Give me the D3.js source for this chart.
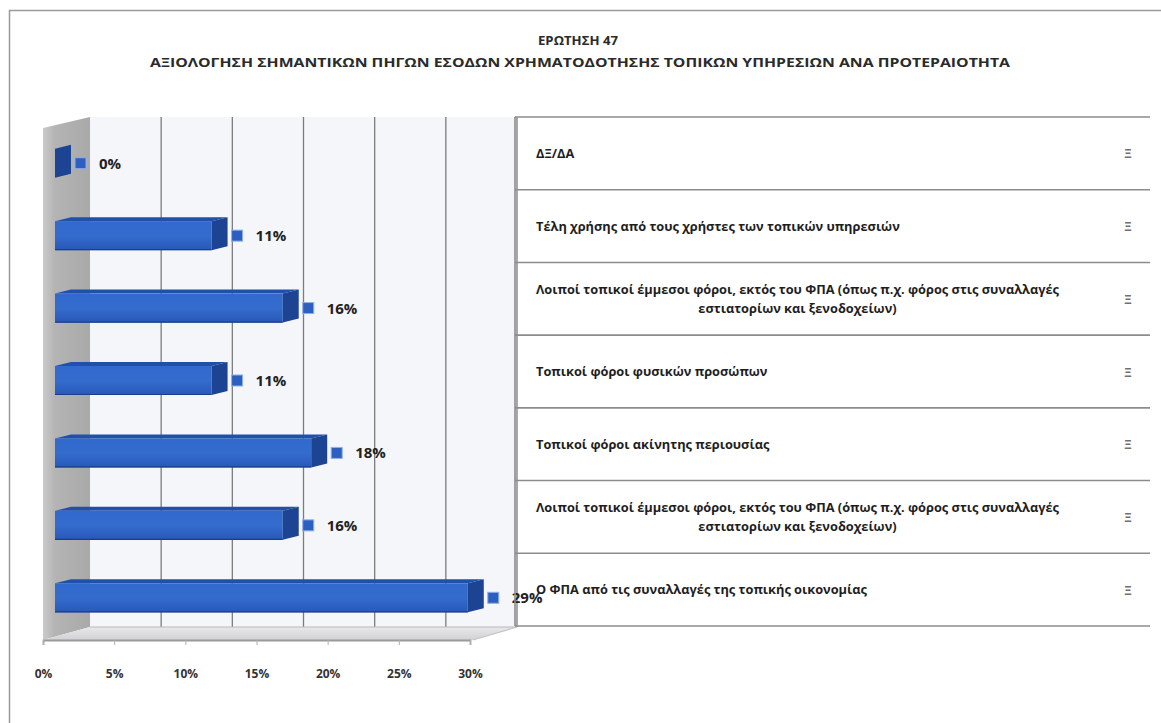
<!DOCTYPE html>
<html>
<head>
<meta charset="utf-8">
<script src="https://cdn.jsdelivr.net/npm/d3@7"></script>
<style>
  html, body { margin: 0; padding: 0; background: #ffffff; }
  svg { display: block; font-family: "Open Sans", "DejaVu Sans", sans-serif; }
</style>
</head>
<body>
<svg id="chart" width="1161" height="723"></svg>
<script>
// Survey question 47: ranking of local revenue sources
const titleLines = [
  "ΕΡΩΤΗΣΗ 47",
  "ΑΞΙΟΛΟΓΗΣΗ ΣΗΜΑΝΤΙΚΩΝ ΠΗΓΩΝ ΕΣΟΔΩΝ ΧΡΗΜΑΤΟΔΟΤΗΣΗΣ ΤΟΠΙΚΩΝ ΥΠΗΡΕΣΙΩΝ ΑΝΑ ΠΡΟΤΕΡΑΙΟΤΗΤΑ"
];

// categories listed top to bottom, as they appear in the chart
const categories = [
  ["ΔΞ/ΔΑ"],
  ["Τέλη χρήσης από τους χρήστες των τοπικών υπηρεσιών"],
  ["Λοιποί τοπικοί έμμεσοι φόροι, εκτός του ΦΠΑ (όπως π.χ. φόρος στις συναλλαγές", "εστιατορίων και ξενοδοχείων)"],
  ["Τοπικοί φόροι φυσικών προσώπων"],
  ["Τοπικοί φόροι ακίνητης περιουσίας"],
  ["Λοιποί τοπικοί έμμεσοι φόροι, εκτός του ΦΠΑ (όπως π.χ. φόρος στις συναλλαγές", "εστιατορίων και ξενοδοχείων)"],
  ["Ο ΦΠΑ από τις συναλλαγές της τοπικής οικονομίας"]
];
const values = [0, 11, 16, 11, 18, 16, 29];
const rowCodes = ["Ξ", "Ξ", "Ξ", "Ξ", "Ξ", "Ξ", "Ξ"];
const xTicks = [0, 5, 10, 15, 20, 25, 30];

const svg = d3.select("#chart");

// outer frame
svg.append("rect")
  .attr("x", 9.5).attr("y", 10.5).attr("width", 1170).attr("height", 730)
  .attr("fill", "none").attr("stroke", "#9a9a9a").attr("stroke-width", 1.5);

// title
svg.append("text").attr("x", 578).attr("y", 45).attr("text-anchor", "middle")
  .attr("font-size", 12).attr("font-weight", 700).attr("fill", "#2a2a2a")
  .attr("textLength", 80).attr("lengthAdjust", "spacingAndGlyphs")
  .text(titleLines[0]);
svg.append("text").attr("x", 580).attr("y", 67).attr("text-anchor", "middle")
  .attr("font-size", 12).attr("font-weight", 700).attr("fill", "#2a2a2a")
  .attr("textLength", 860).attr("lengthAdjust", "spacingAndGlyphs")
  .text(titleLines[1]);

// 3D frame geometry: front plane scale plus a depth offset towards the back wall
const x = d3.scaleLinear().domain([0, 30]).range([43, 470]);
const depth = { dx: 47, dy: -12 };
const wallTop = 117, floorFront = 640;
const floorBack = floorFront + depth.dy - 1;

const rows = d3.scaleBand().domain(d3.range(categories.length)).range([127, 634]).padding(0);
const tableRows = d3.scaleBand().domain(d3.range(categories.length)).range([117, 626]).padding(0);

const defs = svg.append("defs");
const wallGrad = defs.append("linearGradient").attr("id", "sidewall").attr("x1", 0).attr("x2", 1);
wallGrad.append("stop").attr("offset", 0).attr("stop-color", "#cacaca");
wallGrad.append("stop").attr("offset", 0.25).attr("stop-color", "#b4b4b4");
wallGrad.append("stop").attr("offset", 1).attr("stop-color", "#a9a9a9");

const floorGrad = defs.append("linearGradient").attr("id", "floor").attr("x1", 0).attr("x2", 0).attr("y1", 0).attr("y2", 1);
floorGrad.append("stop").attr("offset", 0).attr("stop-color", "#e8e8ea");
floorGrad.append("stop").attr("offset", 1).attr("stop-color", "#d2d2d5");

const frontGrad = defs.append("linearGradient").attr("id", "barFront").attr("x1", 0).attr("x2", 0).attr("y1", 0).attr("y2", 1);
frontGrad.append("stop").attr("offset", 0).attr("stop-color", "#3169cc");
frontGrad.append("stop").attr("offset", 0.5).attr("stop-color", "#346cce");
frontGrad.append("stop").attr("offset", 1).attr("stop-color", "#2858b8");

// back wall
svg.append("rect")
  .attr("x", x(0) + depth.dx).attr("y", wallTop)
  .attr("width", x(30) - x(0)).attr("height", floorBack - wallTop)
  .attr("fill", "#f5f6fa");

// side wall
svg.append("polygon")
  .attr("points", [
    [x(0), wallTop + 11], [x(0) + depth.dx, wallTop],
    [x(0) + depth.dx, floorBack], [x(0), floorFront]
  ].map(p => p.join(",")).join(" "))
  .attr("fill", "url(#sidewall)");

// floor
svg.append("polygon")
  .attr("points", [
    [x(0), floorFront], [x(30) + 3, floorFront],
    [x(30) + depth.dx, floorBack], [x(0) + depth.dx, floorBack]
  ].map(p => p.join(",")).join(" "))
  .attr("fill", "url(#floor)");

// vertical gridlines on the back wall
svg.append("g").selectAll("line").data(xTicks.slice(1)).join("line")
  .attr("x1", d => x(d) + depth.dx).attr("x2", d => x(d) + depth.dx)
  .attr("y1", wallTop).attr("y2", floorBack)
  .attr("stroke", "#7c7c7c").attr("stroke-width", 1.3);

// floor edges
svg.append("line")
  .attr("x1", x(0) + depth.dx).attr("x2", x(30) + depth.dx)
  .attr("y1", floorBack).attr("y2", floorBack)
  .attr("stroke", "#b9b9bd").attr("stroke-width", 1);
svg.append("line")
  .attr("x1", x(30) + 3).attr("x2", x(30) + depth.dx)
  .attr("y1", floorFront).attr("y2", floorBack)
  .attr("stroke", "#c4c4c8").attr("stroke-width", 1.2);

// value axis along the front edge of the floor
const axis = svg.append("g")
  .attr("transform", `translate(0,${floorFront})`)
  .call(d3.axisBottom(x).tickValues(xTicks).tickFormat(d => d + "%").tickSize(5).tickPadding(24));
axis.select(".domain").attr("stroke", "#9a9a9a").attr("stroke-width", 1.8);
axis.selectAll(".tick line").attr("stroke", "#b0b0b0");
axis.selectAll(".tick text")
  .attr("font-family", "'Open Sans', sans-serif")
  .attr("font-size", 12).attr("font-weight", 700).attr("fill", "#333");

// bars
const bar = { inset: 12, h: 29, dx: 16, dy: -4 };
const bars = svg.append("g").selectAll("g").data(values).join("g");

bars.each(function (v, i) {
  const g = d3.select(this);
  const cy = rows(i) + rows.bandwidth() / 2;
  const x0 = x(0) + bar.inset, x1 = x(v) + bar.inset;
  const yt = cy - bar.h / 2, yb = cy + bar.h / 2;
  // top face
  g.append("polygon")
    .attr("points", [[x0, yt], [x1, yt], [x1 + bar.dx, yt + bar.dy], [x0 + bar.dx, yt + bar.dy]].map(p => p.join(",")).join(" "))
    .attr("fill", "#2150aa");
  // front face
  g.append("rect").attr("x", x0).attr("y", yt).attr("width", x1 - x0).attr("height", bar.h)
    .attr("fill", "url(#barFront)");
  g.append("line").attr("x1", x0).attr("x2", x1).attr("y1", yb - 0.5).attr("y2", yb - 0.5)
    .attr("stroke", "#1a3f8a").attr("stroke-width", 1.2);
  // end cap
  g.append("polygon")
    .attr("points", [[x1, yt], [x1 + bar.dx, yt + bar.dy], [x1 + bar.dx, yb + bar.dy], [x1, yb]].map(p => p.join(",")).join(" "))
    .attr("fill", "#1d4393");
  // data marker and value label
  const mx = x1 + bar.dx + 4;
  g.append("rect").attr("x", mx).attr("y", cy - 5.5).attr("width", 11).attr("height", 11)
    .attr("fill", "#2d5fc0").attr("stroke", "#8fb0ea").attr("stroke-width", 1);
  g.append("text").attr("x", mx + 24).attr("y", cy + 5.5)
    .attr("font-size", 15).attr("font-weight", 700).attr("fill", "#222")
    .text(v + "%");
});

// category table on the right
const tableX0 = 515, tableX1 = 1150;
svg.append("g").selectAll("line").data(d3.range(categories.length + 1)).join("line")
  .attr("x1", tableX0).attr("x2", tableX1)
  .attr("y1", d => d < categories.length ? tableRows(d) : tableRows.range()[1])
  .attr("y2", d => d < categories.length ? tableRows(d) : tableRows.range()[1])
  .attr("stroke", "#8c8c8c").attr("stroke-width", 1.6);
svg.append("line")
  .attr("x1", tableX0).attr("x2", tableX0)
  .attr("y1", tableRows.range()[0]).attr("y2", tableRows.range()[1])
  .attr("stroke", "#8c8c8c").attr("stroke-width", 1.6);

const labels = svg.append("g").selectAll("g").data(categories).join("g");
labels.each(function (lines, i) {
  const g = d3.select(this);
  const cy = tableRows(i) + tableRows.bandwidth() / 2;
  const lh = 19;
  const top = cy - (lines.length - 1) * lh / 2;
  const first = g.append("text").attr("x", 536).attr("y", top + 4.5)
    .attr("font-size", 12.8).attr("font-weight", 700).attr("fill", "#1e1e1e")
    .text(lines[0]);
  if (lines.length > 1) {
    const w = first.node().getComputedTextLength();
    g.append("text").attr("x", 536 + w / 2).attr("y", top + lh + 4.5)
      .attr("text-anchor", "middle")
      .attr("font-size", 12.8).attr("font-weight", 700).attr("fill", "#1e1e1e")
      .text(lines[1]);
  }
  g.append("text").attr("x", 1128).attr("y", cy + 5).attr("text-anchor", "middle")
    .attr("font-size", 13).attr("font-weight", 700).attr("fill", "#707070")
    .text(rowCodes[i]);
});
</script>
</body>
</html>
